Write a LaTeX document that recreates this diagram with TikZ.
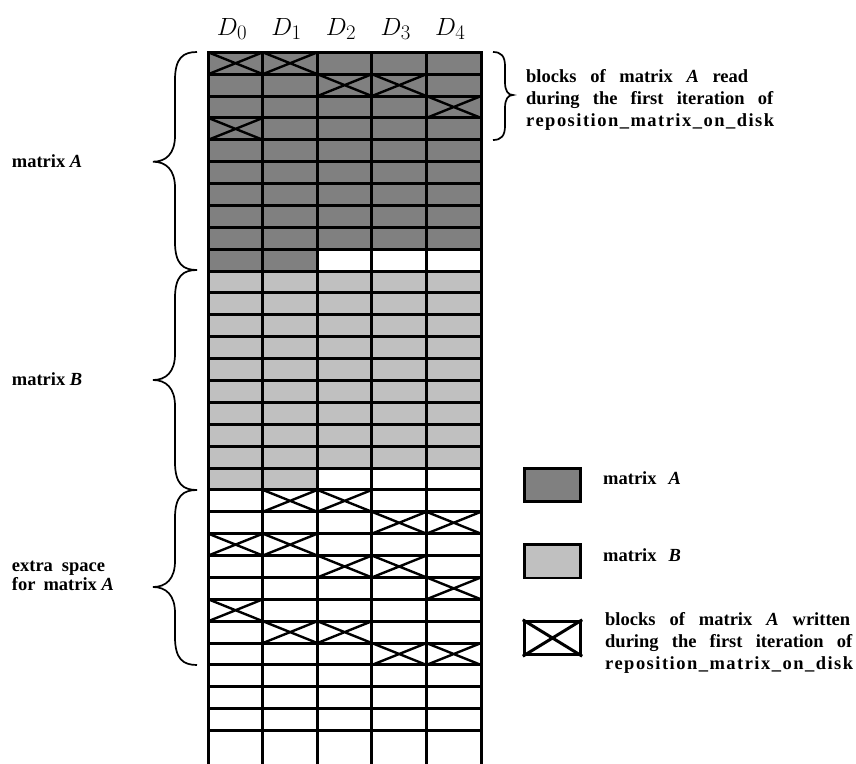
\documentclass[tikz,border=0pt]{standalone}
\usepackage{fontspec}
\setmainfont{Liberation Serif}
\definecolor{darkA}{HTML}{808080}
\definecolor{lightB}{HTML}{C0C0C0}
\tikzset{
  gridline/.style={line width=3pt, line cap=rect},
  xline/.style={line width=2.4pt},
  lab/.style={font=\fontsize{18.5}{22}\selectfont\bfseries, inner sep=0pt, anchor=base west},
  hdr/.style={font=\fontsize{30}{34}\selectfont, inner sep=0pt, anchor=base},
  bracestyle/.style={line width=1.7pt},
  legbox/.style={draw, line width=2.5pt, minimum width=56.4pt, minimum height=33.4pt, inner sep=0pt},
}
\newcommand\LBr[3]{\draw[bracestyle] (197,#1) .. controls (183,#1) and (175,#1+6) .. (175,#1+28) -- (175,#2-26) .. controls (175,#2-8) and (166,#2) .. (153,#2) .. controls (166,#2) and (175,#2+8) .. (175,#2+26) -- (175,#3-28) .. controls (175,#3-6) and (183,#3) .. (197,#3);}
\newcommand\spacedline{\addfontfeature{LetterSpace=8}}
\begin{document}
\begin{tikzpicture}[x=1pt,y=-1pt]
\useasboundingbox (0,0) rectangle (856,763);
\begin{scope}[shift={(208.3pt,-52.3pt)},x=54.54pt,y=-21.88pt]
  \fill[darkA] (0,0) rectangle (5,9);
  \fill[darkA] (0,9) rectangle (2,10);
  \fill[lightB] (0,10) rectangle (5,19);
  \fill[lightB] (0,19) rectangle (2,20);
  \foreach \c/\r in {0/0,1/0,2/1,3/1,4/2,0/3,1/20,2/20,3/21,4/21,0/22,1/22,2/23,3/23,4/24,0/25,1/26,2/26,3/27,4/27}
    \draw[xline] (\c,\r) -- (\c+1,\r+1) (\c+1,\r) -- (\c,\r+1);
  \foreach \r in {0,...,31} \draw[gridline] (0,\r) -- (5,\r);
  \foreach \c in {0,...,5} \draw[gridline] (\c,0) -- (\c,32.5);
  \foreach \i in {0,...,4} \node[hdr] (d\i) at (\i+0.5-0.065,-0.79) {$D_{\i}$};
\end{scope}
% braces
\LBr{52}{161.7}{270}
\LBr{270}{380}{490}
\LBr{490}{587}{665}
\draw[bracestyle] (493,52) .. controls (501,52) and (505,56) .. (505,66) -- (505,82) .. controls (505,91) and (508,95) .. (513,95) .. controls (508,95) and (505,99) .. (505,108) -- (505,126) .. controls (505,136) and (501,140) .. (493,140);
% left labels
\node[lab] (l1) at (11.7,167.3) {matrix \textit{A}};
\node[lab] (l2) at (11.7,385.6) {matrix \textit{B}};
\node[lab] (l3) at (11.7,571.7) {extra\hspace{9pt}space};
\node[lab] (l4) at (11.7,590.7) {for\hspace{8pt}matrix \textit{A}};
% top right
\node[lab] (r1) at (526,82.3) {\makebox[222pt][s]{blocks of matrix \textit{A} read}};
\node[lab] (r2) at (526,104.3) {\makebox[247pt][s]{during the first iteration of}};
\node[lab] (r3) at (526,126) {\spacedline reposition\_matrix\_on\_disk};
% legend
\node[legbox, fill=darkA] (ka) at (552.5,485) {};
\node[legbox, fill=lightB] (kb) at (552.5,561.2) {};
\node[legbox, line width=3pt, fill=white] (kc) at (552.5,638) {};
\draw[line width=3pt] (kc.north west) -- (kc.south east) (kc.north east) -- (kc.south west);
\node[lab] (ta) at (603,484.3) {matrix\hspace{12pt}\textit{A}};
\node[lab] (tb) at (603,561) {matrix\hspace{12pt}\textit{B}};
\node[lab] (tc1) at (605,625.7) {\makebox[245pt][s]{blocks of matrix \textit{A} written}};
\node[lab] (tc2) at (605,647.7) {\makebox[247pt][s]{during the first iteration of}};
\node[lab] (tc3) at (605,669.3) {\spacedline reposition\_matrix\_on\_disk};
\end{tikzpicture}
\end{document}
